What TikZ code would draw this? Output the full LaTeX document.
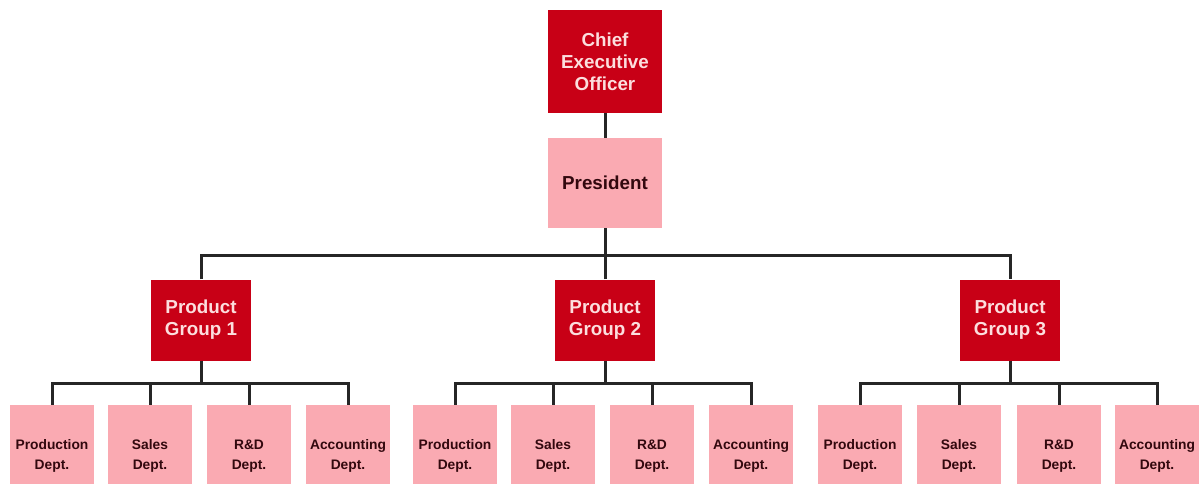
\documentclass[tikz,border=0pt]{standalone}
\usepackage{fontspec}
\setmainfont{Liberation Sans}
\definecolor{darkred}{RGB}{200,0,22}
\definecolor{pinkbox}{RGB}{250,170,178}
\definecolor{lighttext}{RGB}{252,222,222}
\definecolor{darktext}{RGB}{50,8,14}
\tikzset{
  redbox/.style={draw=none, fill=darkred, text=lighttext, font=\bfseries\fontsize{18.8}{22}\selectfont, align=center, inner sep=0pt},
  pinkbig/.style={draw=none, fill=pinkbox, text=darktext, font=\bfseries\fontsize{18.8}{22}\selectfont, align=center, inner sep=0pt},
  deptbox/.style={draw=none, fill=pinkbox, text=darktext, font=\bfseries\fontsize{13.8}{20}\selectfont, align=center, inner sep=0pt, minimum width=84pt, minimum height=101pt},
  conn/.style={line width=3pt, draw=black!85}
}
\begin{document}
\begin{tikzpicture}[x=1pt,y=-1pt]
\useasboundingbox (0,0) rectangle (1199,484);
\node[redbox, minimum width=114pt, minimum height=103pt] (ceo) at (605,61.5) {Chief\\Executive\\Officer};
\node[pinkbig, minimum width=114pt, minimum height=90pt] (pres) at (605,183) {President};
\foreach \i/\x in {1/201,2/605,3/1010}{
  \node[redbox, minimum width=100pt, minimum height=81pt] (g\i) at (\x,320) {Product\\Group \i};
}
\foreach \g/\a/\b/\c/\d in {1/52/150/249/348, 2/455/553/652/751, 3/860/959/1059/1157}{
  \node[deptbox] (d\g a) at (\a,455.5) {\strut Production\\Dept.\strut};
  \node[deptbox] (d\g b) at (\b,455.5) {\strut Sales\\Dept.\strut};
  \node[deptbox] (d\g c) at (\c,455.5) {\strut R\&D\\Dept.\strut};
  \node[deptbox] (d\g d) at (\d,455.5) {\strut Accounting\\Dept.\strut};
}
\coordinate (busA) at (0,255);
\coordinate (busB) at (0,383);
\draw[conn] (ceo.south) -- (pres.north);
\draw[conn] (pres.south) -- (pres.south |- busA);
\draw[conn] (g1.north) -- (g1.north |- busA) -- (g3.north |- busA) -- (g3.north);
\draw[conn] (g2.north) -- (g2.north |- busA);
\foreach \g in {1,2,3}{
  \draw[conn] (g\g.south) -- (g\g.south |- busB);
  \draw[conn] (d\g a.north) -- (d\g a.north |- busB) -- (d\g d.north |- busB) -- (d\g d.north);
  \draw[conn] (d\g b.north) -- (d\g b.north |- busB);
  \draw[conn] (d\g c.north) -- (d\g c.north |- busB);
}
\end{tikzpicture}
\end{document}
